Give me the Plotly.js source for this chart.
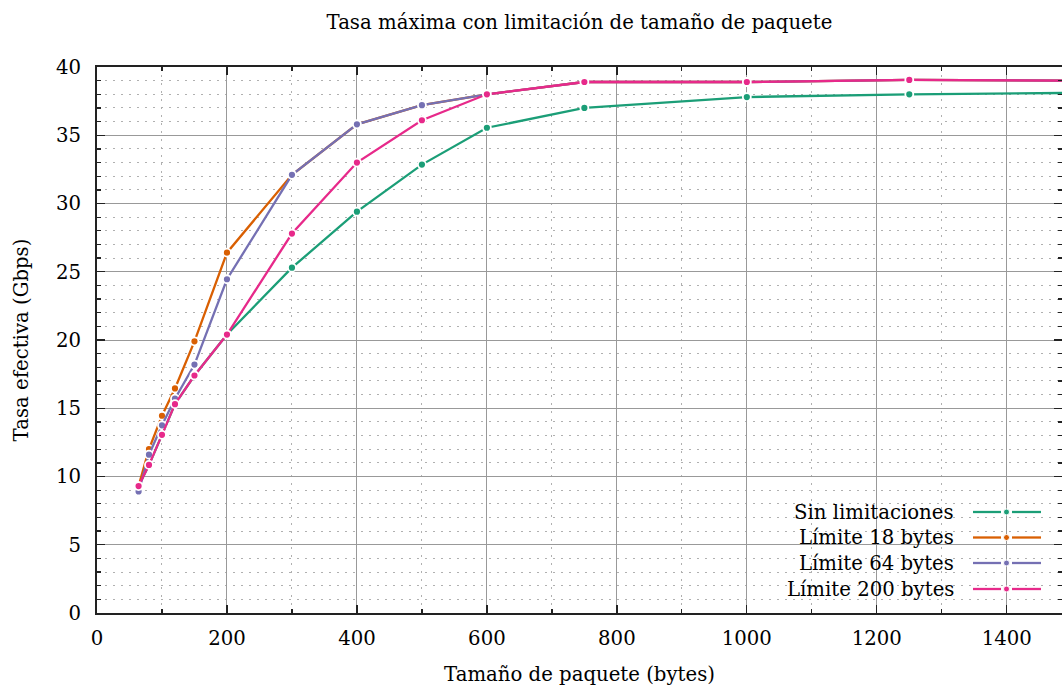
<!DOCTYPE html>
<html>
<head>
<meta charset="utf-8">
<script src="https://cdn.plot.ly/plotly-3.0.1.min.js"></script>
<style>html,body{margin:0;padding:0;background:#fff;}#chart{width:1062px;height:686px;}</style>
</head>
<body>
<div id="chart"></div>
<script>
// Data
const sizes = [64, 80, 100, 120, 150, 200, 300, 400, 500, 600, 750, 1000, 1250, 1500];
const seriesNames = ["Sin limitaciones", "Límite 18 bytes", "Límite 64 bytes", "Límite 200 bytes"];
const sinLimit  = [9.3, 10.85, 13.05, 15.3, 17.4, 20.4, 25.3, 29.4, 32.85, 35.55, 37.0, 37.8, 38.0, 38.1];
const limit18   = [9.3, 12.0, 14.45, 16.45, 19.9, 26.4, 32.1, 35.8, 37.2, 38.0, 38.9, 38.9, 39.05, 39.0];
const limit64   = [8.9, 11.6, 13.75, 15.7, 18.2, 24.45, 32.1, 35.8, 37.2, 38.0, 38.9, 38.9, 39.05, 39.0];
const limit200  = [9.3, 10.85, 13.05, 15.3, 17.4, 20.4, 27.8, 33.0, 36.1, 38.0, 38.9, 38.9, 39.05, 39.0];
const colors = ["#1b9e77", "#d95f02", "#7570b3", "#e7298a"];
const xTicks = [0, 200, 400, 600, 800, 1000, 1200, 1400];
const yTicks = [0, 5, 10, 15, 20, 25, 30, 35, 40];

const values = [sinLimit, limit18, limit64, limit200];
const FONT = "DejaVu Serif, Liberation Serif, serif";
const FS = 19.7;

const traces = values.map((v, i) => ({
  x: sizes, y: v, type: "scatter", mode: "lines+markers", name: seriesNames[i],
  line: {color: colors[i], width: 2.3},
  marker: {color: colors[i], size: 8, line: {color: "#ffffff", width: 1.8}},
  cliponaxis: true, showlegend: false
}));

// Legend (drawn as layout elements, right-aligned text + samples)
const L = 97, W = 965, H = 546;
const px = x => (x - L) / W;
const py = y => (613 - y) / H;
const rowY = [512, 537.5, 563, 589];
const shapes = [{
  type: "rect", xref: "paper", yref: "paper", layer: "between",
  x0: px(708), x1: 1, y0: 0, y1: py(497),
  fillcolor: "#ffffff", line: {width: 0}
}];
const annotations = [];
seriesNames.forEach((n, i) => {
  annotations.push({
    xref: "paper", yref: "paper", x: px(956), y: py(rowY[i]), xanchor: "right", yanchor: "middle",
    text: n, showarrow: false, font: {family: FONT, size: FS, color: "#000"}
  });
  shapes.push({type: "line", xref: "paper", yref: "paper", layer: "above",
    x0: px(973), x1: px(1001), y0: py(rowY[i]), y1: py(rowY[i]), line: {color: colors[i], width: 2.3}});
  shapes.push({type: "line", xref: "paper", yref: "paper", layer: "above",
    x0: px(1012), x1: px(1041), y0: py(rowY[i]), y1: py(rowY[i]), line: {color: colors[i], width: 2.3}});
  shapes.push({type: "circle", xref: "paper", yref: "paper", layer: "above",
    x0: px(1003.5), x1: px(1009.5), y0: py(rowY[i] + 3), y1: py(rowY[i] - 3),
    fillcolor: colors[i], line: {color: "#ffffff", width: 1}});
});

const layout = {
  width: 1062, height: 686,
  margin: {l: 97, r: 0, t: 67, b: 73},
  paper_bgcolor: "#ffffff", plot_bgcolor: "#ffffff",
  font: {family: FONT, size: FS, color: "#000"},
  title: {text: "Tasa máxima con limitación de tamaño de paquete", x: 0.5456, xanchor: "center", y: 0.968, yanchor: "middle",
          font: {family: FONT, size: FS, color: "#000"}},
  xaxis: {
    range: [0, 1485], tickvals: xTicks, ticktext: xTicks.map(String),
    showline: true, linecolor: "#222", linewidth: 2, mirror: "ticks",
    ticks: "inside", ticklen: 8, tickcolor: "#222", tickwidth: 1.3,
    showgrid: true, gridcolor: "#999999", gridwidth: 1,
    zeroline: false, ticklabelstandoff: 6,
    minor: {dtick: 100, tick0: 0, ticks: "inside", ticklen: 4, tickcolor: "#222",
            showgrid: true, gridcolor: "#b0b0b0", griddash: "2px,6px", gridwidth: 1},
    title: {text: "Tamaño de paquete (bytes)", standoff: 23, font: {family: FONT, size: FS}}
  },
  yaxis: {
    range: [0, 40], tickvals: yTicks, ticktext: yTicks.map(String),
    showline: true, linecolor: "#222", linewidth: 2, mirror: "ticks",
    ticks: "inside", ticklen: 8, tickcolor: "#222", tickwidth: 1.3,
    showgrid: true, gridcolor: "#999999", gridwidth: 1,
    zeroline: false, ticklabelstandoff: 10,
    minor: {dtick: 1, tick0: 0, ticks: "inside", ticklen: 4, tickcolor: "#222",
            showgrid: true, gridcolor: "#b0b0b0", griddash: "2px,6px", gridwidth: 1},
    title: {text: "Tasa efectiva (Gbps)", standoff: 22, font: {family: FONT, size: FS}}
  },
  shapes: shapes, annotations: annotations, showlegend: false
};

Plotly.newPlot("chart", traces, layout, {displayModeBar: false, staticPlot: true});
</script>
</body>
</html>
